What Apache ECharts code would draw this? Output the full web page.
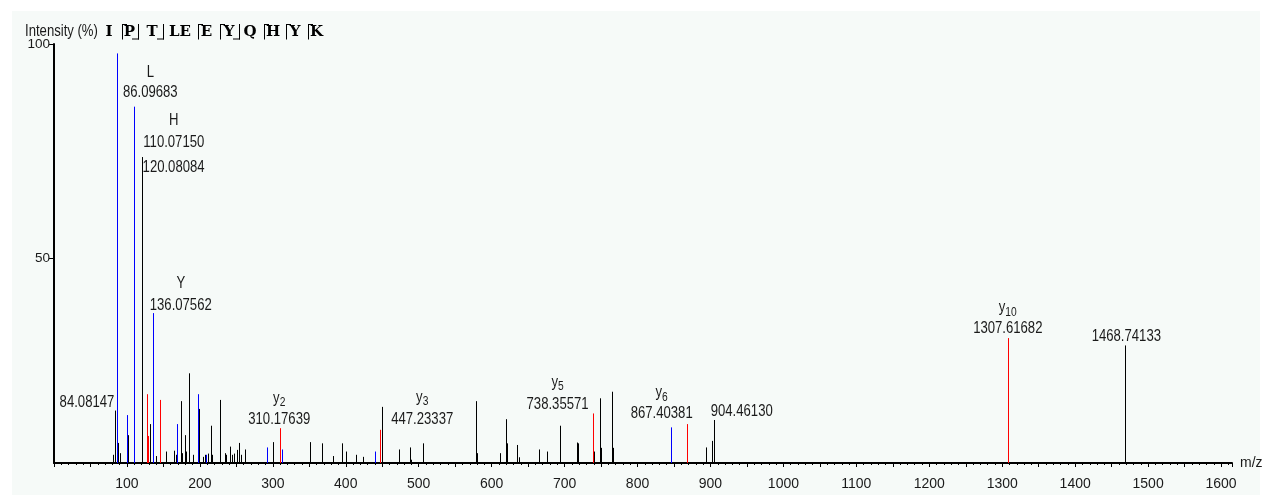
<!DOCTYPE html>
<html><head><meta charset="utf-8">
<script src="https://cdn.jsdelivr.net/npm/echarts@6/dist/echarts.min.js"></script>
<style>html,body{margin:0;padding:0;background:#fff}#c{width:1271px;height:495px}</style>
</head><body><div id="c"></div>
<script>
// ---- data (m/z, relative intensity %) ----
const blackPeaks = [
  [80.9, 2.0], [84.08147, 12.8], [88.3, 4.9], [90.0, 2.4], [102.0, 6.8], [120.08084, 74.7],
  [132.1, 9.5], [139.4, 1.7], [154.1, 2.8], [164.5, 3.0], [167.8, 2.0], [173.7, 15.1],
  [175.4, 2.4], [180.1, 6.8], [181.5, 2.8], [185.6, 21.9], [190.5, 2.0], [199.3, 13.2],
  [204.2, 1.5], [207.0, 2.0], [210.7, 2.3], [215.2, 9.1], [216.6, 2.0], [228.1, 15.4],
  [234.0, 2.4], [235.4, 2.0], [241.8, 4.0], [244.0, 2.0], [247.3, 2.3], [250.8, 3.2],
  [253.2, 4.9], [256.8, 2.0], [262.3, 3.3], [300.2, 5.1], [351.4, 5.1], [366.9, 4.8],
  [383.0, 1.7], [394.3, 4.8], [400.8, 2.8], [414.5, 2.0], [423.5, 1.5], [450.1, 13.7],
  [472.9, 3.3], [487.9, 3.8], [489.9, 0.8], [506.3, 4.8], [578.4, 15.1], [579.8, 2.4],
  [611.3, 2.4], [619.1, 10.7], [620.5, 4.8], [635.1, 4.4], [636.9, 1.4], [665.3, 3.3],
  [675.7, 2.8], [694.1, 9.1], [717.4, 5.0], [718.7, 4.8], [740.0, 2.8], [748.4, 15.8],
  [749.7, 3.7], [764.8, 17.4], [766.2, 3.7], [894.2, 3.8], [901.9, 5.4], [904.46130, 10.5],
  [1468.74133, 28.7]
];
const bluePeaks = [
  [86.09683, 100], [100.6, 11.7], [110.07150, 87.0], [136.07562, 36.6], [169.1, 9.5],
  [197.9, 16.8], [208.9, 2.0], [292.5, 3.8], [312.0, 3.3], [440.0, 2.8], [846.2, 8.7]
];
const redPeaks = [
  [127.0, 16.8], [128.8, 6.6], [145.3, 15.4], [310.17639, 8.5], [447.23337, 8.1],
  [738.35571, 12.1], [867.40381, 9.5], [1307.61682, 30.5]
];
const labelMz  = [84.08147, 86.09683, 110.07150, 120.08084, 136.07562, 310.17639,
                  447.23337, 738.35571, 867.40381, 904.46130, 1307.61682, 1468.74133];
const labelIon = ['', 'L', 'H', '', 'Y', 'y2', 'y3', 'y5', 'y6', '', 'y10', ''];
const xTickLabels = ['100','200','300','400','500','600','700','800','900','1000','1100','1200','1300','1400','1500','1600'];
const yTickLabels = ['50', '100'];
const sequence = ['I','P','T','LE','E','Y','Q','H','Y','K'];

// ---- layout / style (not data) ----
const SANS = '"Liberation Sans", Arial, sans-serif';
const NARROW_SCALE = 0.82;
const Y_TOP = 102.3;
const labelLayout = [
  {dx: -1, dy: -8, align: 'right'},
  {dx: 33.5, dy: 39.5, align: 'center', gap: 20},
  {dx: 39.5, dy: 36, align: 'center', gap: 22},
  {dx: 1, dy: 11, align: 'left'},
  {dx: 27.5, dy: -8, align: 'center', gap: 22},
  {dx: -1, dy: -9, align: 'center', gap: 21},
  {dx: 42, dy: -10, align: 'center', gap: 22},
  {dx: -35, dy: -9, align: 'center', gap: 22},
  {dx: -25, dy: -10, align: 'center', gap: 21},
  {dx: -3, dy: -8, align: 'left'},
  {dx: 0, dy: -9, align: 'center', gap: 21},
  {dx: 1, dy: -9, align: 'center'}
];
const seqX = [109, 129.5, 152, 180, 206.5, 229, 250, 273, 295, 316.5];
const brackets = [[122,'t'],[138,'b'],[163,'b'],[198,'t'],[220,'t'],[239,'b'],[264,'t'],[286,'t'],[308,'t']];

function intensityOf(mz) {
  const all = blackPeaks.concat(bluePeaks, redPeaks);
  for (const p of all) if (p[0] === mz) return p[1];
  return 0;
}

function peakRenderer(color) {
  return function (params, api) {
    const mz = api.value(0), it = api.value(1);
    const p0 = api.coord([mz, 0]), p1 = api.coord([mz, it]);
    const x = Math.round(p0[0]) + 0.5;
    return {type: 'line', shape: {x1: x, y1: p0[1], x2: x, y2: p1[1]},
            style: {stroke: color, lineWidth: 1}};
  };
}

function ionRich(ion) {
  if (ion.length === 1) return '{a|' + ion + '}';
  return '{a|' + ion[0] + '}{b|' + ion.slice(1) + '}';
}

function labelRenderer(params, api) {
  const mz = api.value(0), it = api.value(1), idx = api.value(2);
  const L = labelLayout[idx];
  const p = api.coord([mz, it]);
  const cx = p[0] + L.dx, cy = p[1] + L.dy;
  const children = [{
    type: 'text', x: cx, y: cy, scaleX: NARROW_SCALE,
    style: {x: 0, y: 0, text: mz.toFixed(5), align: L.align, verticalAlign: 'middle',
            fill: '#1a1a1a', fontSize: 16, fontFamily: SANS}
  }];
  const ion = labelIon[idx];
  if (ion) {
    children.push({
      type: 'text', x: cx, y: cy - L.gap, scaleX: NARROW_SCALE,
      style: {x: 0, y: 0, text: ionRich(ion), align: 'center', verticalAlign: 'middle',
              fill: '#1a1a1a',
              rich: {
                a: {fontSize: 16, fontFamily: SANS, fill: '#1a1a1a'},
                b: {fontSize: 12.5, fontFamily: SANS, fill: '#1a1a1a', padding: [8, 0, 0, 0]}
              }}
    });
  }
  return {type: 'group', children: children};
}

const graphics = [
  {type: 'rect', z: -10, silent: true, shape: {x: 12, y: 11, width: 1248, height: 484},
   style: {fill: '#f6faf8'}},
  {type: 'text', x: 25, y: 32, scaleX: NARROW_SCALE,
   style: {x: 0, y: 0, text: 'Intensity (%)', fontSize: 16, fontFamily: SANS, fill: '#1a1a1a',
           align: 'left', verticalAlign: 'middle'}}
];
sequence.forEach((s, i) => {
  graphics.push({type: 'text', x: seqX[i], y: 32,
    style: {x: 0, y: 0, text: s, align: 'center', verticalAlign: 'middle', fontSize: 15, fontWeight: 'bold',
            fontFamily: '"DejaVu Serif", "Liberation Serif", serif', fill: '#000'}});
});
brackets.forEach(([x, t]) => {
  graphics.push({type: 'line', shape: {x1: x + 0.5, y1: 24, x2: x + 0.5, y2: 39.5}, style: {stroke: '#000', lineWidth: 1}});
  if (t === 't') graphics.push({type: 'line', shape: {x1: x, y1: 24.5, x2: x + 5, y2: 24.5}, style: {stroke: '#000', lineWidth: 1}});
  else graphics.push({type: 'line', shape: {x1: x - 6, y1: 39, x2: x + 1, y2: 39}, style: {stroke: '#000', lineWidth: 1}});
});

const chart = echarts.init(document.getElementById('c'));
chart.setOption({
  backgroundColor: '#ffffff',
  animation: false,
  grid: {left: 54, right: 39, top: 44, bottom: 32, containLabel: false},
  graphic: graphics,
  xAxis: {
    type: 'value', min: 0, max: 1615, interval: 50,
    name: 'm/z', nameLocation: 'end', nameGap: 8,
    nameTextStyle: {fontSize: 14, fontFamily: SANS, color: '#1a1a1a', verticalAlign: 'middle', padding: [2, 0, 0, 0]},
    splitLine: {show: false},
    axisLine: {lineStyle: {color: '#000', width: 2}},
    axisTick: {length: 4, lineStyle: {color: '#000', width: 1}},
    minorTick: {show: true, splitNumber: 5, length: 2, lineStyle: {color: '#000', width: 1}},
    axisLabel: {
      fontSize: 14, fontFamily: SANS, color: '#1a1a1a', margin: 14,
      showMinLabel: false, showMaxLabel: false,
      formatter: v => { const i = xTickLabels.indexOf(String(v)); return i >= 0 ? xTickLabels[i] : ''; }
    }
  },
  yAxis: {
    type: 'value', min: 0, max: Y_TOP,
    splitLine: {show: false},
    axisLine: {show: true, lineStyle: {color: '#000', width: 2}},
    axisTick: {show: true, length: 5, customValues: [50, Y_TOP], lineStyle: {color: '#000', width: 1}},
    axisLabel: {
      fontSize: 13.5, fontFamily: SANS, color: '#1a1a1a', margin: 4,
      customValues: [50, Y_TOP],
      formatter: v => (v === 50 ? yTickLabels[0] : yTickLabels[1])
    }
  },
  series: [
    {type: 'custom', name: 'other', renderItem: peakRenderer('#000000'), encode: {x: 0, y: 1}, data: blackPeaks, z: 3},
    {type: 'custom', name: 'b', renderItem: peakRenderer('#0000ff'), encode: {x: 0, y: 1}, data: bluePeaks, z: 4},
    {type: 'custom', name: 'y', renderItem: peakRenderer('#ff0000'), encode: {x: 0, y: 1}, data: redPeaks, z: 5},
    {type: 'custom', name: 'labels', renderItem: labelRenderer, encode: {x: 0, y: 1}, clip: false,
     data: labelMz.map((m, i) => [m, intensityOf(m), i]), z: 6}
  ]
});
</script></body></html>
